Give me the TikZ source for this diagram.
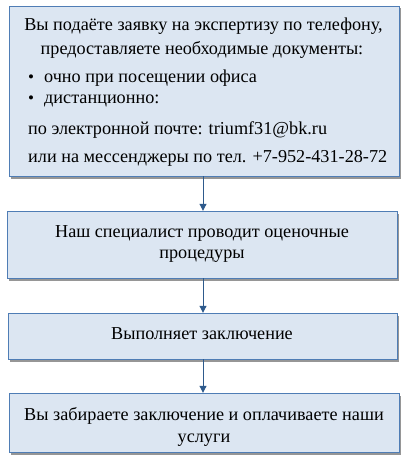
\documentclass[tikz,border=0pt]{standalone}
\usepackage{fontspec}
\setmainfont{Liberation Serif}
\usetikzlibrary{shadows,arrows.meta}
\definecolor{boxfill}{HTML}{DCE6F2}
\definecolor{boxline}{HTML}{4F7DB5}
\definecolor{arrowcol}{HTML}{2E5A8C}
\tikzset{
  x=1pt,y=-1pt,
  flowbox/.style={draw=boxline, line width=0.9pt, fill=boxfill,
    drop shadow={shadow xshift=2pt,shadow yshift=-2.5pt,fill=black!55,opacity=0.75}},
  txt/.style={inner sep=0pt, font=\fontsize{18.2}{22}\selectfont},
  bul/.style={inner sep=0pt, font=\fontsize{17}{20}\selectfont},
  conn/.style={draw=arrowcol, line width=1pt, -{Triangle[length=7pt,width=7pt]}}
}
\begin{document}
\begin{tikzpicture}
\useasboundingbox (0,0) rectangle (409,476);
\fill[white] (0,0) rectangle (409,476);
% boxes
\path[flowbox] (9,6) rectangle (399,176);
\node[inner sep=0pt] (b1) at (204,91) [minimum width=390pt,minimum height=170pt] {};
\path[flowbox] (7,211) rectangle (397,278);
\node[inner sep=0pt] (b2) at (202,244.5) [minimum width=390pt,minimum height=67pt] {};
\path[flowbox] (8,313) rectangle (397,359);
\node[inner sep=0pt] (b3) at (202.5,336) [minimum width=389pt,minimum height=46pt] {};
\path[flowbox] (9,393) rectangle (399,452);
\node[inner sep=0pt] (b4) at (204,422.5) [minimum width=390pt,minimum height=59pt] {};
% texts box 1
\node[txt,anchor=base] (t1) at (203.5,31) {Вы подаёте заявку на экспертизу по телефону,};
\node[txt,anchor=base] (t2) at (202,55) {предоставляете необходимые документы:};
\node[bul,anchor=base] (bl1) at (31,83) {•};
\node[txt,anchor=base west] (t3) at (44,83) {очно при посещении офиса};
\node[bul,anchor=base] (bl2) at (31,103) {•};
\node[txt,anchor=base west] (t4) at (44,103) {дистанционно:};
\node[txt,anchor=base west] (t5) at (28,134) {по электронной почте: triumf31@bk.ru};
\node[txt,anchor=base west] (t6) at (28,162) {или на мессенджеры по тел. +7-952-431-28-72};
% texts other boxes
\node[txt,anchor=base] (t7) at (202,237) {Наш специалист проводит оценочные};
\node[txt,anchor=base] (t8) at (202,258) {процедуры};
\node[txt,anchor=base] (t9) at (202,339) {Выполняет заключение};
\node[txt,anchor=base] (t10) at (204,420) {Вы забираете заключение и оплачиваете наши};
\node[txt,anchor=base] (t11) at (204,442) {услуги};
% connectors
\draw[conn] (b1.south-|203,0) -- (b2.north-|203,0);
\draw[conn] (b2.south-|203,0) -- (b3.north-|203,0);
\draw[conn] (b3.south-|203,0) -- (b4.north-|203,0);
\end{tikzpicture}
\end{document}
